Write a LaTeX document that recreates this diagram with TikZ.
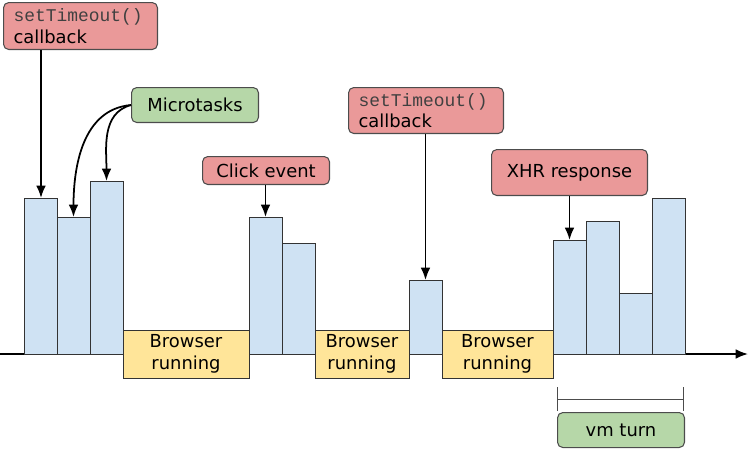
\documentclass[tikz,border=0pt]{standalone}
\usepackage{fontspec}
\setmainfont{DejaVu Sans}
\setmonofont{Liberation Mono}
\usetikzlibrary{arrows.meta}
\definecolor{barblue}{HTML}{CFE2F3}
\definecolor{boxred}{HTML}{EA9999}
\definecolor{boxgreen}{HTML}{B6D7A8}
\definecolor{boxyellow}{HTML}{FFE599}
\tikzset{
  arr/.style={-{Latex[length=7pt,width=5.5pt]},line width=1pt},
  bar/.style={draw=black!80,fill=barblue,anchor=south,minimum width=0.66cm,inner sep=0pt,outer sep=0pt},
  browser/.style={draw=black!80,fill=boxyellow,minimum height=0.96cm,align=center,inner sep=0pt},
  tagbox/.style={draw=black!70,line width=0.6pt,rounded corners=3pt,inner sep=0pt,anchor=north west},
  redbox/.style={tagbox,fill=boxred},
  greenbox/.style={tagbox,fill=boxgreen}
}
\newcommand{\cbtext}{{\color{black!75}\ttfamily setTimeout()}\\callback}
\begin{document}
\begin{tikzpicture}[x=0.02cm,y=-0.02cm,font=\fontsize{10.2}{12.2}\selectfont]
\useasboundingbox (0,0) rectangle (750,450);
\coordinate (axL) at (0,354);
\coordinate (axR) at (748,354);
\draw[arr] (axL) -- (axR);
\foreach \n/\x/\t in {1/41/198,2/73.5/217,3/106.5/181,4/265.5/217,5/298.5/243,
  6/425.5/280,7/569.5/240,8/602.5/221,9/635.5/293,10/668.5/198}{
  \pgfmathsetmacro\h{(354-\t)*0.02}
  \node[bar,minimum height=\h cm] (b\n) at (\x,354) {};
}
\node[browser,minimum width=2.52cm] (br1) at (186,354) {Browser\\running};
\node[browser,minimum width=1.88cm] (br2) at (362,354) {Browser\\running};
\node[browser,minimum width=2.22cm] (br3) at (497.5,354) {Browser\\running};

\node[redbox,minimum height=0.94cm,text width=2.68cm,inner xsep=0.2cm,align=left] (cbA) at (3,2) {\cbtext};
\node[greenbox,minimum width=2.54cm,minimum height=0.7cm] (micro) at (131,87) {Microtasks};
\node[redbox,minimum width=2.54cm,minimum height=0.56cm] (click) at (202,156) {Click event};
\node[redbox,minimum height=0.92cm,text width=2.7cm,inner xsep=0.2cm,align=left] (cbB) at (348,87) {\cbtext};
\node[redbox,minimum width=3.12cm,minimum height=0.92cm] (xhr) at (491,149) {XHR response};
\node[greenbox,minimum width=2.54cm,minimum height=0.7cm] (vm) at (557,412) {vm turn};

\draw[arr] (cbA.south -| b1.north) -- (b1.north);
\draw[arr] (micro.west) to[out=185,in=90] (b2.north);
\draw[arr] (micro.west) to[out=195,in=90] (b3.north);
\draw[arr] (click.south -| b4.north) -- (b4.north);
\draw[arr] (cbB.south -| b6.north) -- (b6.north);
\draw[arr] (xhr.south -| b7.north) -- (b7.north);

\draw[black!70] (557,387) -- (557,411) (557,399) -- (683,399) (683,387) -- (683,411);
\end{tikzpicture}
\end{document}
